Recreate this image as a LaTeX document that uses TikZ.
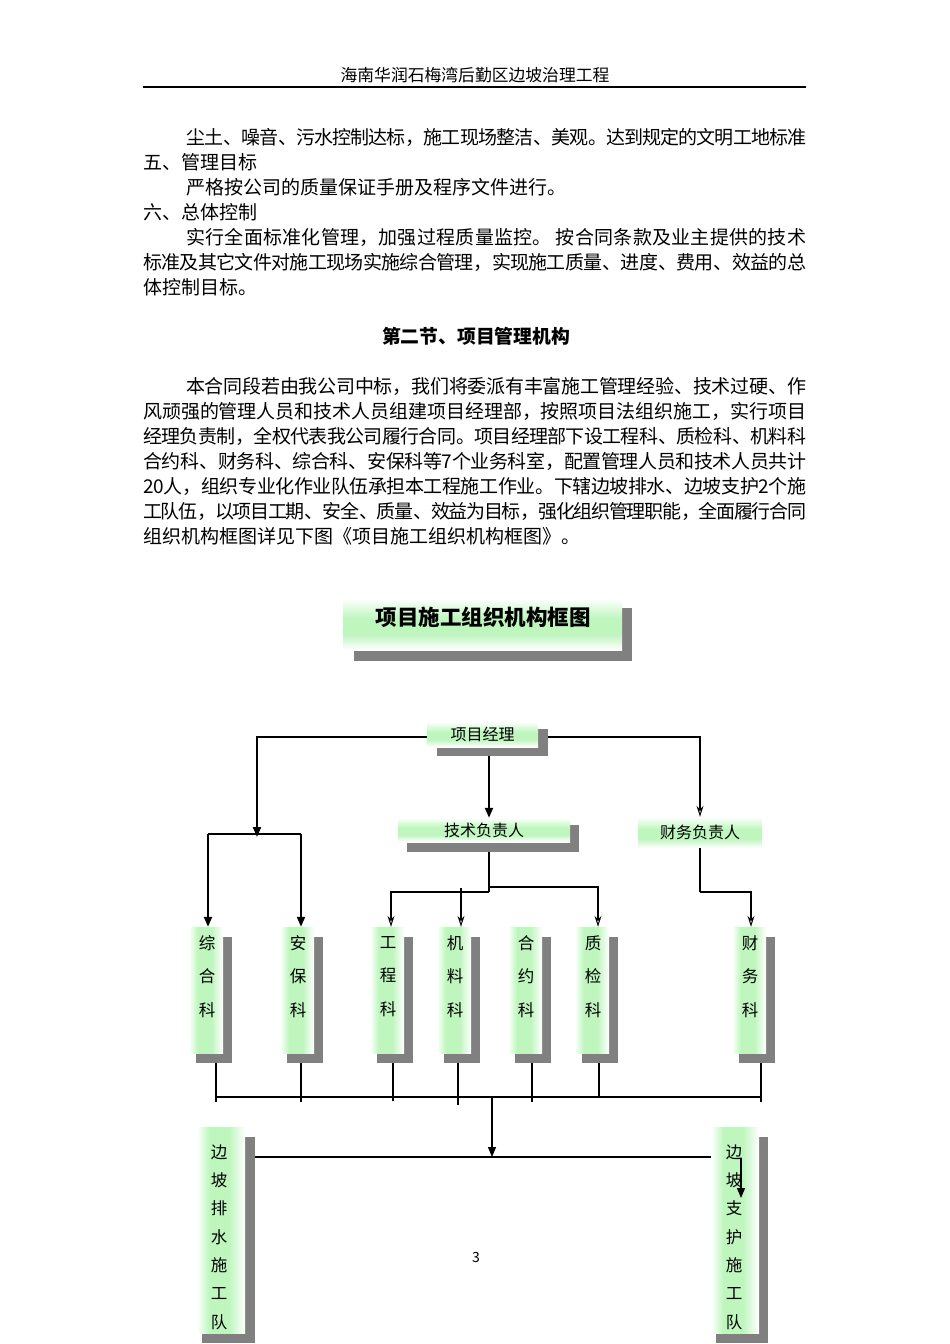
\documentclass[tikz,border=0pt]{standalone}
\usepackage{fontspec}
\setmainfont{Noto Sans CJK SC}
\usetikzlibrary{arrows.meta}
\definecolor{glow}{RGB}{190,246,190}
\definecolor{shd}{RGB}{128,128,128}
\pgfdeclarehorizontalshading{glowh}{100bp}{color(0bp)=(white); color(25bp)=(white); color(38bp)=(glow); color(58bp)=(glow); color(75bp)=(white); color(100bp)=(white)}
\pgfdeclareverticalshading{glowv}{100bp}{color(0bp)=(white); color(25bp)=(white); color(40bp)=(glow); color(55bp)=(glow); color(75bp)=(white); color(100bp)=(white)}
\newcommand\fsz[1]{\fontsize{#1pt}{#1pt}\selectfont}
\newcommand\jline[2]{\parbox{#1pt}{\tolerance=9999\parfillskip=0pt\XeTeXlinebreaklocale "zh"\XeTeXlinebreakskip=0pt plus 8pt minus 2pt\relax #2}}
\tikzset{
 hbox/.style={shading=glowv, draw=none, inner sep=0pt},
 vbox/.style={shading=glowh, draw=none, inner sep=0pt},
 shadowbox/.style={fill=shd, draw=none, inner sep=0pt},
 bodytext/.style={anchor=west, inner sep=0pt, font=\fsz{19}},
 thk/.style={line width=2pt},
 thn/.style={line width=1.1pt},
 fillarr/.style={-{Triangle[length=10pt,width=8pt]}},
 openarr/.style={-{Stealth[open,length=11pt,width=7pt,line width=1pt]}},
 vtxt/.style={align=center, inner sep=0pt, font=\fontsize{16.5pt}{33.5pt}\selectfont},
 ttxt/.style={align=center, inner sep=0pt, font=\fontsize{16.5pt}{28.3pt}\selectfont},
}
\newcommand\dept[3]{%
 \node[shadowbox, minimum width=36pt, minimum height=126pt] (#1S) at (#2-18,1000) {};
 \node[vbox, minimum width=34pt, minimum height=126pt] (#1) at (#2-26,990) {};
 \node[vtxt] (#1T) at (#2-25,976.5) {#3};
}
\begin{document}
\begin{tikzpicture}[x=1pt,y=-1pt]
\useasboundingbox (0,0) rectangle (950,1344);
\fill[white] (0,0) rectangle (950,1344);

% header
\node[inner sep=0pt, font=\fsz{16.8}] (hdr) at (475,75) {海南华润石梅湾后勤区边坡治理工程};
\coordinate (hdrL) at (143,87);
\coordinate (hdrR) at (806,87);
\draw[line width=1.3pt] (hdrL) -- (hdrR);

% body text
\node[bodytext] (t1) at (186,137.5) {\jline{620}{尘土、噪音、污水控制达标，施工现场整洁、美观。达到规定的文明工地标准}};
\node[bodytext] (t2) at (143,162.5) {五、管理目标};
\node[bodytext] (t3) at (186,187) {严格按公司的质量保证手册及程序文件进行。};
\node[bodytext] (t4) at (143,212) {六、总体控制};
\node[bodytext] (t5) at (186,237) {\jline{620}{实行全面标准化管理，加强过程质量监控。 按合同条款及业主提供的技术}};
\node[bodytext] (t6) at (143,262) {\jline{663}{标准及其它文件对施工现场实施综合管理，实现施工质量、进度、费用、效益的总}};
\node[bodytext] (t7) at (143,287) {体控制目标。};

\node[inner sep=0pt, font=\fsz{18.8}\bfseries] (sec) at (476,336) {第二节、项目管理机构};

\node[bodytext] (p1) at (186,386.5) {\jline{620}{本合同段若由我公司中标，我们将委派有丰富施工管理经验、技术过硬、作}};
\node[bodytext] (p2) at (143,411) {\jline{663}{风顽强的管理人员和技术人员组建项目经理部，按照项目法组织施工，实行项目}};
\node[bodytext] (p3) at (143,436) {\jline{663}{经理负责制，全权代表我公司履行合同。项目经理部下设工程科、质检科、机料科}};
\node[bodytext] (p4) at (143,461) {\jline{663}{合约科、财务科、综合科、安保科等7个业务科室，配置管理人员和技术人员共计}};
\node[bodytext] (p5) at (143,486) {\jline{663}{20人，组织专业化作业队伍承担本工程施工作业。下辖边坡排水、边坡支护2个施}};
\node[bodytext] (p6) at (143,511) {\jline{663}{工队伍，以项目工期、安全、质量、效益为目标，强化组织管理职能，全面履行合同}};
\node[bodytext] (p7) at (143,536) {组织机构框图详见下图《项目施工组织机构框图》。};

% title box
\node[shadowbox, minimum width=278pt, minimum height=53pt] (ttlS) at (493,634.5) {};
\node[hbox, minimum width=279pt, minimum height=52pt] (ttl) at (482.5,624) {};
\node[inner sep=0pt, font=\fsz{21.5}\bfseries] (ttlT) at (483,617) {项目施工组织机构框图};

% top boxes
\node[shadowbox, minimum width=111pt, minimum height=27pt] (pmS) at (492.5,742.5) {};
\node[hbox, minimum width=111pt, minimum height=25pt, font=\fsz{16}] (pm) at (482.5,734.5) {项目经理};
\node[shadowbox, minimum width=172pt, minimum height=27pt] (tmS) at (493,838.5) {};
\node[hbox, minimum width=172pt, minimum height=24pt, font=\fsz{16}] (tm) at (484,830) {技术负责人};
\node[hbox, minimum width=124pt, minimum height=31pt, font=\fsz{16}] (fm) at (700,832.5) {财务负责人};

% departments
\dept{zh}{232}{综\\合\\科}
\dept{ab}{323}{安\\保\\科}
\dept{gc}{413}{工\\程\\科}
\dept{jl}{480}{机\\料\\科}
\dept{hy}{551}{合\\约\\科}
\dept{zj}{618}{质\\检\\科}
\dept{cw}{775}{财\\务\\科}

% teams
\node[shadowbox, minimum width=53pt, minimum height=206pt] (ltS) at (228.5,1240) {};
\node[vbox, minimum width=48pt, minimum height=206pt] (lt) at (221,1230) {};
\node[ttxt] (ltT) at (219,1237) {边\\坡\\排\\水\\施\\工\\队};
\node[shadowbox, minimum width=52pt, minimum height=206pt] (rtS) at (742,1240) {};
\node[vbox, minimum width=48pt, minimum height=206pt] (rt) at (735,1230) {};
\node[ttxt] (rtT) at (734,1237) {边\\坡\\支\\护\\施\\工\\队};

% page number
\node[inner sep=0pt, font=\fsz{14}] (pg) at (476,1257) {3};

% connectors top
\coordinate (yPM) at (0,737);
\coordinate (jA) at (257,837);
\coordinate (jL) at (208,834);
\coordinate (jR) at (301,834);
\draw[thk,fillarr] (pm.west |- yPM) -| (jA);
\draw[thk] (jL) -- (jR);
\draw[thk,fillarr] (jL) -- (jL |- zh.north);
\draw[thk,fillarr] (jR) -- (jR |- ab.north);
\draw[thk,openarr] (pmS.east |- yPM) -| (fm.north);
\coordinate (xT) at (489,0);
\draw[thk,fillarr] (pmS.south -| xT) -- (tm.north -| xT);
\coordinate (jT) at (489,892);
\draw[thk] (tmS.south -| xT) -- (jT);
\draw[thk,openarr] (jT) -| ([xshift=4pt]gc.north);
\coordinate (jT2) at (489,887);
\draw[thn,openarr] (jT2) -| ([xshift=6pt]zj.north);
\coordinate (jM) at (461,888);
\draw[thk,openarr] (jM) -- (jM |- jl.north);
\coordinate (jF) at (700,892);
\draw[thk] (fm.south) -- (jF);
\draw[thk,openarr] (jF) -| ([xshift=2pt]cw.north);

% connectors bottom
\coordinate (busL) at (216,1097);
\coordinate (busR) at (761,1097);
\draw[thn] (busL) -- (busR);
\draw[thn] ([xshift=2pt]zhS.south) -- ++(0,39);
\draw[thn] ([xshift=-4pt]abS.south) -- ++(0,39);
\draw[thn] ([xshift=-2pt]gcS.south) -- ++(0,38);
\draw[thk] ([xshift=-4pt]jlS.south) -- ++(0,42);
\draw[thn] ([xshift=-1pt]hyS.south) -- ++(0,39);
\draw[thn] ([xshift=-1pt]zjS.south) -- ++(0,34);
\draw[thn] ([xshift=4pt]cwS.south) -- ++(0,39);
\coordinate (busC) at (492,1097);
\coordinate (tmid) at (492,1157);
\draw[thn,fillarr] (busC) -- (tmid);
\draw[thk] (ltS.east |- tmid) -- (rt.west |- tmid);
\coordinate (jR2) at (741,1158);
\draw[thn,fillarr] (jR2) -- ++(0,40);
\end{tikzpicture}
\end{document}
